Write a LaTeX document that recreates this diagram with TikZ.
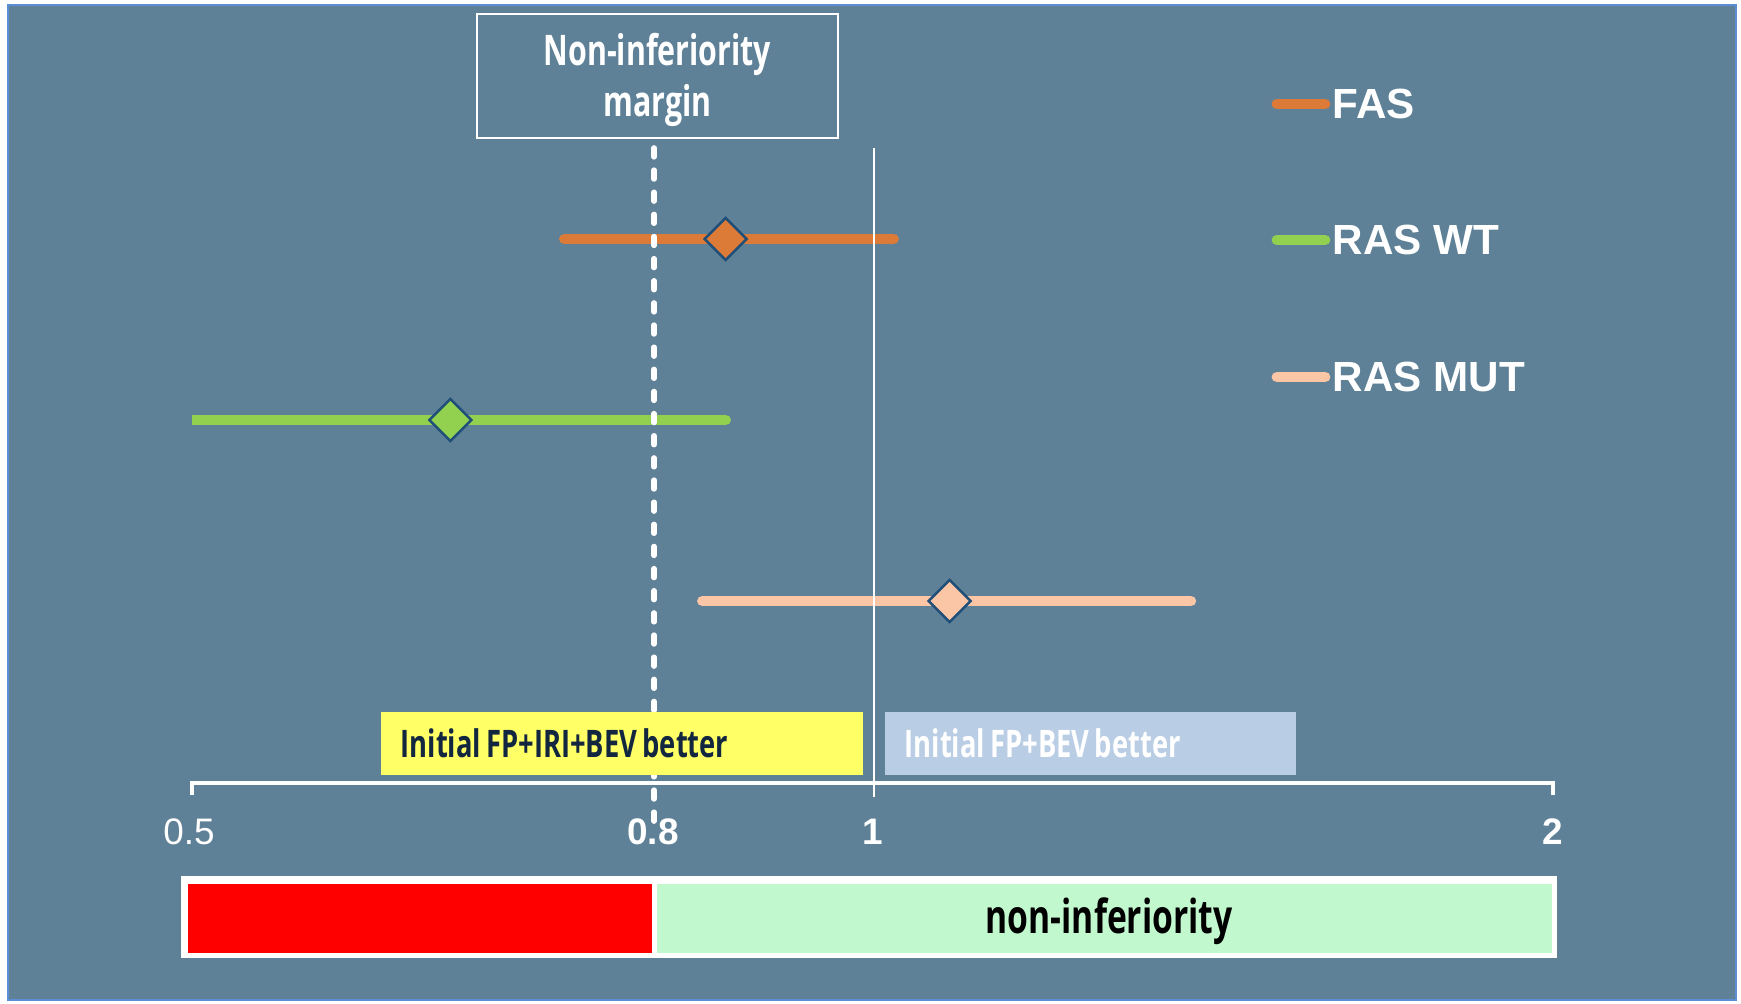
\documentclass[tikz,border=0pt]{standalone}
\usepackage{fontspec}
\setmainfont{Liberation Sans}
\newfontfamily\condfont[FakeStretch=0.72]{Open Sans}
\usetikzlibrary{shapes.geometric}

\definecolor{slate}{HTML}{5E8197}
\definecolor{edgeblue}{HTML}{5B8ED6}
\definecolor{fasorange}{HTML}{DC7A37}
\definecolor{wtgreen}{HTML}{92D050}
\definecolor{mutpeach}{HTML}{FAC6A5}
\definecolor{diamondedge}{HTML}{1F4E79}
\definecolor{iriyellow}{HTML}{FFFF66}
\definecolor{bevblue}{HTML}{B9CDE5}
\definecolor{navytext}{HTML}{12263F}
\definecolor{nigreen}{HTML}{C2F8CE}

% hazard ratio -> horizontal position (log scale)
\newcommand{\hrpos}[1]{874+983.5*ln(#1)}
% narrow word gap for the condensed labels
\newcommand{\gap}{\hspace{0.14em}}

\tikzset{
  ci/.style={line width=3.1pt, line cap=round},
  estimate/.style={diamond, draw=diamondedge, line width=0.7pt, inner sep=0pt, minimum size=4.3mm},
  legline/.style={line width=3.1pt, line cap=round},
  legtext/.style={anchor=west, inner sep=0pt, text=white, font=\fontsize{12}{14}\selectfont\bfseries},
  axlabel/.style={inner sep=0pt, text=white, font=\fontsize{10.5}{12}\selectfont\bfseries},
  sidebox/.style={anchor=north west, minimum height=6.3mm, inner xsep=2mm, inner ysep=0pt, align=left,
    font=\condfont\bfseries\fontsize{10.8}{12}\selectfont}
}

\begin{document}
\begin{tikzpicture}[x=0.1mm, y=-0.1mm]
  \fill[white] (0,0) rectangle (1741,1003);
  \useasboundingbox (0,0) rectangle (1741,1003);
  \draw[edgeblue, fill=slate, line width=0.6pt] (8,5) rectangle (1736,1000);

  % margin label
  \node[draw=white, line width=0.8pt, minimum width=36.1mm, minimum height=12.4mm, inner sep=0pt]
    (margin) at (657.5,76) {};
  \node[align=center, inner sep=0pt, text=white, font=\condfont\bfseries\fontsize{12}{14.5}\selectfont]
    (marginText) at (657.5,80) {Non-inferiority\\margin};

  % confidence intervals
  \coordinate (fasL) at ({\hrpos{0.73}},239);
  \coordinate (fasR) at ({\hrpos{1.02}},239);
  \coordinate (wtL) at ({\hrpos{0.49}},420);
  \coordinate (wtR) at ({\hrpos{0.86}},420);
  \coordinate (mutL) at ({\hrpos{0.84}},601);
  \coordinate (mutR) at ({\hrpos{1.38}},601);
  \draw[ci, fasorange] (fasL) -- (fasR);
  \begin{scope}
    \clip (192,300) rectangle (1741,500);
    \draw[ci, wtgreen] (wtL) -- (wtR);
  \end{scope}
  \draw[ci, mutpeach] (mutL) -- (mutR);

  % reference lines
  \coordinate (nimTop) at (654,148);
  \coordinate (nimBot) at (654,822);
  \coordinate (oneTop) at (874,148);
  \coordinate (oneBot) at (874,797);
  \draw[white, line width=1.6pt, line cap=round, dash pattern=on 2.5pt off 3.8pt] (nimTop) -- (nimBot);
  \draw[white, line width=0.8pt] (oneTop) -- (oneBot);

  % point estimates
  \node[estimate, fill=fasorange] (fasPt) at ({\hrpos{0.86}},239) {};
  \node[estimate, fill=wtgreen] (wtPt) at ({\hrpos{0.65}},420) {};
  \node[estimate, fill=mutpeach] (mutPt) at ({\hrpos{1.08}},601) {};

  % legend
  \node[legtext] (fasLeg) at (1332,104) {FAS};
  \node[legtext] (wtLeg) at (1332,240) {RAS WT};
  \node[legtext] (mutLeg) at (1332,377) {RAS MUT};
  \draw[legline, fasorange] ([xshift=-5.5mm]fasLeg.west) -- ([xshift=-0.7mm]fasLeg.west);
  \draw[legline, wtgreen] ([xshift=-5.5mm]wtLeg.west) -- ([xshift=-0.7mm]wtLeg.west);
  \draw[legline, mutpeach] ([xshift=-5.5mm]mutLeg.west) -- ([xshift=-0.7mm]mutLeg.west);

  % favour boxes
  \node[sidebox, fill=iriyellow, text=navytext, text width=44.2mm] (iriBetter) at (380,711)
    {Initial\gap FP+IRI+BEV\gap better};
  \node[sidebox, fill=bevblue, text=white, text width=37.1mm] (bevBetter) at (884,711)
    {Initial\gap FP+BEV\gap better};

  % axis
  \coordinate (axL) at (192,783);
  \coordinate (axR) at (1553,783);
  \draw[white, line width=1.4pt] ([yshift=-1.2mm]axL) -- (axL) -- (axR) -- ([yshift=-1.2mm]axR);
  \node[axlabel, font=\fontsize{10.5}{12}\selectfont] (lab05) at (189,832) {0.5};
  \node[axlabel] (lab08) at (653,832) {0.8};
  \node[axlabel] (lab1) at (873,832) {1};
  \node[axlabel] (lab2) at (1553,832) {2};

  % conclusion bar
  \fill[white] (181,876) rectangle (1557,958);
  \node[fill=red, anchor=north west, inner sep=0pt, minimum width=46.4mm, minimum height=6.9mm]
    (inferior) at (187,883) {};
  \node[fill=nigreen, anchor=north west, inner sep=0pt, minimum width=89.5mm, minimum height=6.9mm]
    (noninf) at (656,883) {};
  \node[inner sep=0pt, font=\condfont\bfseries\fontsize{13.3}{15}\selectfont] (noninfText)
    at ([xshift=0.5mm, yshift=-0.3mm]noninf.center) {non-inferiority};
\end{tikzpicture}
\end{document}
